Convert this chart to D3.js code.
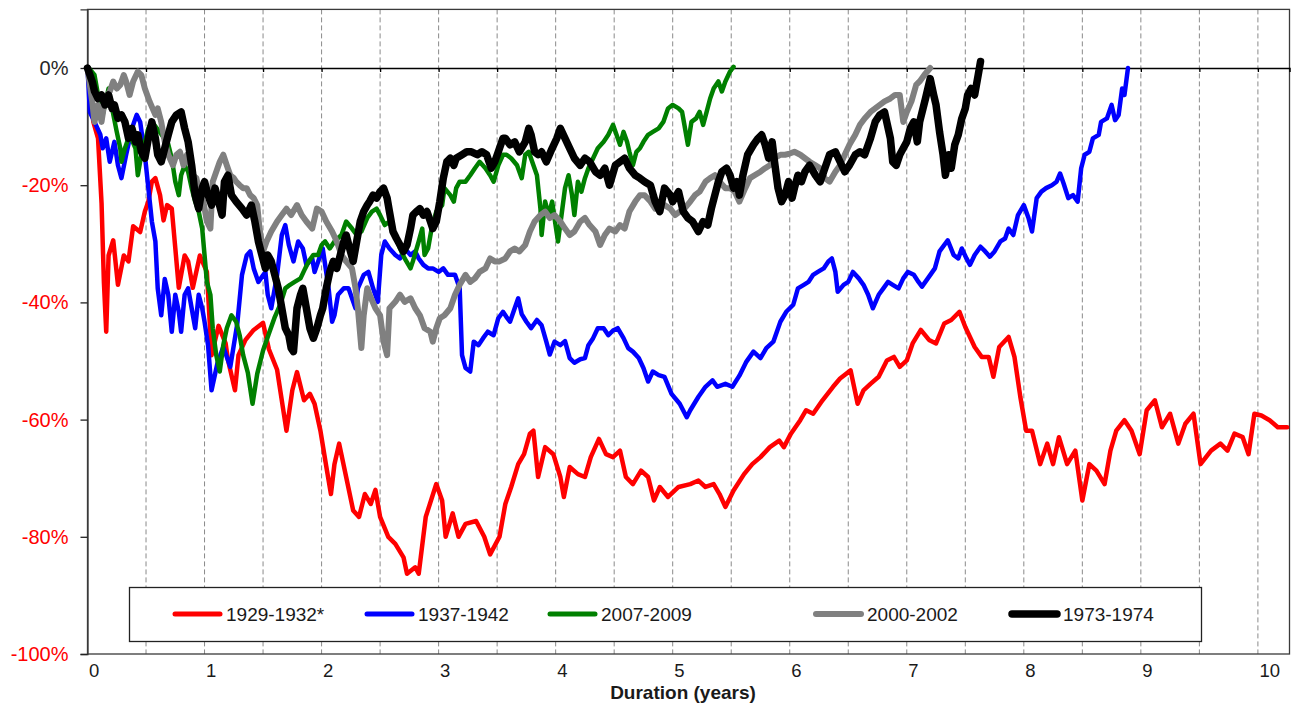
<!DOCTYPE html>
<html>
<head>
<meta charset="utf-8">
<title>Bear market durations</title>
<script src="https://d3js.org/d3.v7.min.js"></script>
<style>
body { margin: 0; background: #fff; }
text { font-family: "Liberation Sans", Arial, sans-serif; }
.series { fill: none; stroke-linejoin: round; stroke-linecap: round; }
</style>
</head>
<body>
<script>
// [years since start, % from previous peak]
var red1929 = [[0,0],[0.05,-9.2],[0.09,-12],[0.12,-23],[0.14,-36.5],[0.16,-45],[0.18,-32],[0.22,-29.4],[0.26,-37],[0.31,-32],[0.35,-33],[0.39,-27],[0.45,-28],[0.49,-24.5],[0.52,-22.8],[0.55,-19.4],[0.58,-18.8],[0.62,-21.7],[0.65,-26],[0.68,-23.4],[0.72,-24],[0.75,-30.7],[0.78,-37.5],[0.83,-32],[0.86,-33],[0.90,-37.5],[0.96,-32],[1.02,-34.8],[1.06,-49],[1.12,-44],[1.18,-47],[1.20,-49.8],[1.26,-55],[1.29,-49],[1.35,-46.4],[1.42,-44.7],[1.50,-43.5],[1.55,-48],[1.62,-51.5],[1.70,-61.9],[1.75,-55],[1.79,-51.9],[1.85,-56.7],[1.90,-55.6],[1.94,-57.3],[1.99,-61.9],[2.04,-68],[2.08,-72.7],[2.11,-67.6],[2.15,-64.1],[2.21,-69.8],[2.27,-75.5],[2.32,-76.6],[2.37,-72.7],[2.42,-74.4],[2.46,-72],[2.50,-76.6],[2.57,-80],[2.63,-81.2],[2.70,-83.5],[2.73,-86.3],[2.80,-85.2],[2.83,-86.3],[2.89,-76.6],[2.98,-71],[3.03,-73.8],[3.06,-80],[3.12,-76],[3.17,-80],[3.23,-77.8],[3.32,-77.3],[3.39,-80],[3.44,-83],[3.52,-80],[3.57,-74.4],[3.62,-71.5],[3.68,-67.6],[3.73,-65.9],[3.78,-62.4],[3.81,-61.9],[3.85,-69.8],[3.91,-64.7],[3.98,-65.9],[4.04,-69.8],[4.07,-73.2],[4.12,-68.1],[4.19,-69.3],[4.25,-69.8],[4.30,-66.4],[4.37,-63.3],[4.43,-65.9],[4.49,-66.4],[4.55,-65.3],[4.60,-69.8],[4.66,-71],[4.73,-68.7],[4.79,-69.8],[4.84,-73.8],[4.89,-71.5],[4.96,-73.2],[5.05,-71.5],[5.15,-71],[5.22,-70.4],[5.28,-71.5],[5.35,-71],[5.40,-72.7],[5.45,-74.9],[5.52,-72.1],[5.61,-69.3],[5.68,-67.6],[5.75,-66.4],[5.83,-64.7],[5.91,-63.6],[5.95,-64.7],[6.01,-62.4],[6.09,-60.1],[6.14,-58.4],[6.20,-59],[6.28,-56.7],[6.37,-54.4],[6.43,-53],[6.52,-51.6],[6.58,-57.3],[6.63,-55],[6.69,-53.9],[6.76,-52.7],[6.83,-49.9],[6.89,-49.3],[6.94,-51],[7.00,-49.9],[7.05,-47],[7.12,-44.7],[7.19,-46.4],[7.25,-47],[7.32,-43.6],[7.38,-43],[7.45,-41.6],[7.50,-44.2],[7.58,-47.6],[7.64,-49.3],[7.70,-49.3],[7.74,-52.7],[7.79,-47.6],[7.87,-45.9],[7.92,-49.3],[7.97,-56.1],[8.02,-61.9],[8.07,-61.9],[8.14,-67.6],[8.20,-64.1],[8.25,-67.6],[8.30,-63],[8.37,-67.6],[8.44,-65.3],[8.50,-73.8],[8.56,-67.6],[8.62,-68.7],[8.69,-71],[8.74,-65.3],[8.79,-61.9],[8.86,-60.1],[8.92,-61.9],[8.99,-65.9],[9.05,-58.4],[9.12,-56.7],[9.18,-61.3],[9.25,-59],[9.32,-64.1],[9.38,-60.7],[9.45,-59],[9.51,-67.6],[9.60,-65.3],[9.68,-64.1],[9.74,-65.3],[9.80,-62.4],[9.87,-63],[9.92,-65.9],[9.97,-59],[10.03,-59.3],[10.10,-60.1],[10.17,-61.3],[10.25,-61.3]];

var blue1937 = [[0,0],[0.01,-3.5],[0.02,-7.5],[0.06,-9.2],[0.11,-11.4],[0.13,-13.7],[0.16,-12],[0.19,-16],[0.23,-12.6],[0.26,-16.6],[0.29,-18.8],[0.33,-14.8],[0.38,-10.3],[0.42,-8],[0.45,-9.2],[0.49,-14.8],[0.52,-20.5],[0.55,-26.2],[0.58,-29.6],[0.60,-37.6],[0.63,-42.2],[0.66,-36],[0.69,-38.7],[0.72,-45],[0.75,-38.7],[0.78,-41.6],[0.80,-45],[0.83,-38.7],[0.86,-37.6],[0.89,-41],[0.92,-44.4],[0.95,-38.7],[0.98,-41],[1.00,-43.3],[1.03,-47.3],[1.06,-55],[1.11,-50.4],[1.16,-47.6],[1.22,-51],[1.28,-43.6],[1.32,-35.3],[1.36,-32],[1.39,-31.3],[1.42,-34.2],[1.46,-36.5],[1.52,-34.8],[1.54,-38.7],[1.57,-41],[1.62,-35.3],[1.66,-28.5],[1.69,-26.8],[1.72,-30.2],[1.76,-33],[1.80,-29.6],[1.84,-30.8],[1.87,-33.6],[1.92,-32.5],[1.94,-34.8],[1.99,-31.9],[2.01,-30.8],[2.06,-37.6],[2.09,-43.3],[2.11,-42.2],[2.14,-38.7],[2.19,-37.6],[2.23,-37.6],[2.26,-39.3],[2.29,-41],[2.31,-37.6],[2.36,-35.3],[2.40,-34.8],[2.44,-37.6],[2.48,-39.9],[2.51,-31.9],[2.54,-29.6],[2.58,-30.8],[2.63,-31.9],[2.67,-32.5],[2.71,-30.8],[2.76,-31.9],[2.80,-31.3],[2.83,-32.5],[2.87,-33.6],[2.91,-34.2],[2.95,-34.2],[3.00,-34.8],[3.04,-34.2],[3.08,-35.3],[3.14,-35.3],[3.18,-37.6],[3.20,-49],[3.23,-51.2],[3.27,-51.8],[3.30,-46.7],[3.34,-47.3],[3.38,-46.1],[3.42,-45],[3.47,-45.6],[3.51,-42.7],[3.55,-41.6],[3.58,-42.5],[3.61,-43.3],[3.65,-41],[3.68,-39.3],[3.71,-42],[3.75,-43.3],[3.79,-44.4],[3.84,-43],[3.88,-43.9],[3.92,-46.7],[3.95,-48.9],[3.99,-46.7],[4.04,-47.3],[4.08,-46.6],[4.12,-49.5],[4.16,-50.3],[4.21,-49.7],[4.25,-49.5],[4.28,-47.3],[4.32,-46.1],[4.36,-44.4],[4.41,-44.4],[4.45,-45.6],[4.49,-44.8],[4.53,-44.4],[4.58,-46.1],[4.62,-47.8],[4.66,-48.4],[4.71,-49.5],[4.75,-51.2],[4.79,-53.5],[4.83,-51.8],[4.88,-52.4],[4.93,-52.7],[4.99,-55.6],[5.06,-57.3],[5.12,-59.6],[5.15,-58.4],[5.22,-56.1],[5.28,-54.4],[5.34,-53.3],[5.38,-54.4],[5.45,-53.9],[5.51,-54.4],[5.57,-52.5],[5.63,-50.1],[5.69,-48.4],[5.75,-49.5],[5.80,-47.8],[5.86,-46.7],[5.92,-43.3],[5.97,-41.6],[6.03,-40.4],[6.07,-37.6],[6.12,-37],[6.16,-36.5],[6.20,-35.3],[6.24,-34.8],[6.29,-34.2],[6.33,-33],[6.36,-32.5],[6.39,-34.8],[6.41,-38.2],[6.46,-37],[6.50,-36.5],[6.54,-34.8],[6.59,-35.9],[6.63,-37],[6.67,-38.7],[6.71,-41],[6.76,-38.7],[6.80,-37.6],[6.84,-36.5],[6.88,-37],[6.93,-37.6],[6.97,-35.9],[7.01,-34.8],[7.06,-35.3],[7.10,-36.5],[7.13,-37.3],[7.18,-35.9],[7.24,-34.2],[7.28,-31.3],[7.35,-29.4],[7.40,-31.9],[7.44,-32.5],[7.47,-30.8],[7.51,-32.5],[7.54,-33.6],[7.58,-31.9],[7.63,-30.5],[7.67,-31.3],[7.71,-32.2],[7.75,-31.3],[7.80,-29.6],[7.84,-29.1],[7.87,-27.4],[7.91,-28.5],[7.95,-25.1],[8.00,-23.4],[8.04,-25.6],[8.07,-27.9],[8.11,-22.2],[8.15,-21.1],[8.19,-20.5],[8.24,-20],[8.28,-19.4],[8.31,-18],[8.34,-19.7],[8.38,-22.2],[8.42,-21.7],[8.46,-22.8],[8.49,-17.1],[8.52,-14.8],[8.56,-14.3],[8.59,-12],[8.64,-11.4],[8.66,-9.2],[8.71,-8.6],[8.75,-6.3],[8.78,-8.9],[8.81,-8],[8.84,-3.5],[8.86,-4.6],[8.89,0]];

var green2007 = [[0,0],[0.01,0],[0.06,-1.2],[0.09,-4.6],[0.13,-8],[0.18,-3.5],[0.21,-6.9],[0.25,-10.9],[0.28,-13.7],[0.29,-16],[0.32,-13.7],[0.36,-11.4],[0.41,-13.7],[0.43,-18.3],[0.46,-14.8],[0.49,-12.6],[0.52,-10.3],[0.55,-9.2],[0.62,-11],[0.69,-13],[0.72,-15.4],[0.75,-19.4],[0.78,-21.7],[0.80,-18.3],[0.83,-16.6],[0.86,-17.7],[0.89,-20.5],[0.92,-22.8],[0.95,-24.5],[0.98,-27.4],[1.00,-31.9],[1.02,-36.5],[1.05,-38.7],[1.07,-44.4],[1.10,-49],[1.13,-51.8],[1.16,-47.3],[1.19,-44.4],[1.23,-42.2],[1.27,-43.3],[1.30,-45.6],[1.33,-49],[1.37,-52],[1.41,-57.3],[1.45,-52.2],[1.50,-48.2],[1.55,-45.3],[1.60,-42.5],[1.65,-40.2],[1.69,-37.6],[1.73,-37],[1.77,-36.5],[1.82,-35.9],[1.86,-34.2],[1.89,-33],[1.93,-31.9],[1.97,-31.9],[2.00,-30.2],[2.03,-29.6],[2.07,-30.8],[2.11,-29.6],[2.17,-28.5],[2.21,-26.2],[2.26,-27.4],[2.30,-28.5],[2.34,-27.9],[2.39,-25.6],[2.43,-24.5],[2.47,-24],[2.50,-25.1],[2.54,-26.8],[2.58,-26.2],[2.63,-28.5],[2.67,-30.8],[2.71,-32.5],[2.76,-34.2],[2.78,-33],[2.83,-29.6],[2.86,-27.4],[2.88,-31.9],[2.91,-30.8],[2.94,-27.4],[2.98,-24.5],[3.03,-23.4],[3.05,-20.5],[3.10,-21.7],[3.13,-22.8],[3.15,-20.5],[3.18,-19.4],[3.23,-19.4],[3.27,-18.3],[3.31,-17.1],[3.35,-16],[3.40,-17.1],[3.44,-18.3],[3.47,-19.4],[3.51,-16.6],[3.55,-14.8],[3.58,-14.8],[3.62,-15.4],[3.67,-16.6],[3.71,-18.8],[3.74,-14.8],[3.77,-14.3],[3.81,-16.6],[3.84,-18.3],[3.87,-24],[3.88,-28.5],[3.91,-22.8],[3.94,-25.1],[3.97,-22.8],[3.99,-25.6],[4.02,-29.6],[4.05,-25.1],[4.08,-20.5],[4.11,-18.3],[4.14,-21.7],[4.16,-25.1],[4.19,-19.4],[4.22,-21.1],[4.25,-18.8],[4.28,-17.1],[4.32,-15.4],[4.36,-13.7],[4.41,-12.6],[4.45,-11.4],[4.49,-9.7],[4.52,-11.4],[4.55,-13.1],[4.58,-10.9],[4.61,-12.6],[4.63,-14.3],[4.66,-16.6],[4.69,-14.3],[4.72,-13.7],[4.75,-12.6],[4.79,-11.4],[4.83,-10.9],[4.88,-10.3],[4.92,-9.2],[4.96,-6.9],[5.00,-6.3],[5.05,-6.9],[5.08,-7.5],[5.10,-9.7],[5.13,-13.1],[5.16,-9.2],[5.20,-8.6],[5.23,-7.5],[5.26,-9.7],[5.29,-7.5],[5.32,-5.2],[5.35,-3.5],[5.39,-2.3],[5.42,-4],[5.45,-2.3],[5.49,-0.6],[5.52,0.2]];

var gray2000 = [[0,0],[0.04,-5.7],[0.06,-9.2],[0.09,-6.3],[0.12,-9.2],[0.15,-5.2],[0.19,-4],[0.22,-2.3],[0.25,-3.5],[0.28,-2.9],[0.31,-1.2],[0.33,-2.3],[0.36,-4.6],[0.39,-2.3],[0.43,-0.6],[0.46,-1.2],[0.49,-3.5],[0.53,-5.7],[0.58,-8],[0.60,-6.9],[0.63,-9.2],[0.66,-12.6],[0.69,-14.8],[0.73,-16.6],[0.76,-14.8],[0.79,-14.3],[0.82,-16.6],[0.85,-14.8],[0.88,-16.6],[0.90,-18.3],[0.93,-18.8],[0.96,-21.7],[0.99,-22.8],[1.02,-26.2],[1.05,-27.4],[1.07,-19.4],[1.10,-17.7],[1.13,-16],[1.16,-14.8],[1.19,-16.6],[1.22,-18.3],[1.25,-18.8],[1.27,-19.4],[1.30,-20],[1.33,-20.5],[1.36,-20.5],[1.39,-21.7],[1.42,-22.2],[1.45,-23.4],[1.47,-27.4],[1.50,-31.3],[1.53,-29.6],[1.57,-27.9],[1.62,-26.2],[1.66,-25.1],[1.70,-24],[1.74,-25.1],[1.79,-23.4],[1.83,-25.1],[1.87,-26.2],[1.92,-27.4],[1.96,-24],[2.00,-24.5],[2.04,-26.2],[2.09,-27.9],[2.13,-29.6],[2.17,-31.9],[2.21,-33],[2.26,-34.2],[2.29,-37.6],[2.31,-41],[2.34,-47.8],[2.36,-42.2],[2.39,-37.6],[2.41,-38.7],[2.46,-41],[2.50,-42.2],[2.53,-46.7],[2.56,-49],[2.58,-41],[2.63,-39.9],[2.67,-38.7],[2.71,-39.9],[2.76,-39.3],[2.80,-41],[2.84,-42.2],[2.88,-44.4],[2.93,-45],[2.95,-46.7],[2.98,-44.4],[3.01,-42.7],[3.05,-42.2],[3.10,-41],[3.14,-38.7],[3.18,-37],[3.23,-35.3],[3.27,-36.5],[3.31,-35.9],[3.35,-34.8],[3.40,-34.2],[3.44,-32.5],[3.48,-33],[3.52,-33],[3.57,-32.5],[3.61,-31.3],[3.65,-30.8],[3.69,-31.3],[3.74,-30.2],[3.78,-27.9],[3.82,-26.2],[3.87,-25.1],[3.91,-24.5],[3.95,-25.6],[3.99,-25.1],[4.04,-26.2],[4.08,-27.4],[4.12,-28.5],[4.16,-27.9],[4.21,-26.2],[4.25,-25.6],[4.29,-26.8],[4.34,-27.9],[4.38,-30.2],[4.42,-28.5],[4.46,-27.4],[4.51,-27.9],[4.55,-26.8],[4.59,-27.4],[4.63,-24.5],[4.68,-22.8],[4.72,-21.7],[4.76,-21.7],[4.81,-22.8],[4.85,-24],[4.89,-23.4],[4.93,-23.4],[4.98,-24],[5.02,-25.1],[5.06,-24.5],[5.10,-24],[5.15,-22.8],[5.19,-21.7],[5.23,-21.1],[5.28,-19.4],[5.32,-18.8],[5.36,-18.3],[5.40,-19.4],[5.45,-20.5],[5.49,-20.5],[5.53,-21.1],[5.57,-22.8],[5.62,-20.5],[5.66,-18.8],[5.70,-18.3],[5.75,-17.7],[5.79,-17.1],[5.83,-16.6],[5.87,-15.4],[5.92,-14.8],[5.96,-14.8],[6.00,-14.6],[6.04,-14.3],[6.09,-14.8],[6.13,-15.4],[6.17,-16],[6.22,-16.6],[6.26,-17.1],[6.30,-18.8],[6.34,-19.4],[6.39,-17.7],[6.43,-16.6],[6.47,-14.8],[6.51,-13.1],[6.56,-11.4],[6.60,-9.7],[6.64,-8.6],[6.69,-7.5],[6.73,-6.9],[6.77,-6.3],[6.81,-5.7],[6.86,-5.2],[6.90,-4.6],[6.94,-4.6],[6.97,-9.2],[7.00,-7.5],[7.04,-5.7],[7.08,-2.9],[7.11,-2.3],[7.15,-1.2],[7.20,0]];

var black1973 = [[0,0],[0.04,-2.3],[0.06,-4],[0.09,-5.2],[0.12,-4.6],[0.15,-6.3],[0.18,-4.6],[0.21,-6.9],[0.23,-6.3],[0.26,-8.6],[0.29,-8],[0.32,-9.2],[0.35,-12],[0.38,-10.3],[0.41,-12.6],[0.43,-11.4],[0.46,-14.3],[0.49,-15.4],[0.52,-12],[0.55,-9.2],[0.58,-12],[0.60,-14.8],[0.63,-16],[0.66,-13.7],[0.69,-11.4],[0.72,-9.2],[0.76,-8],[0.80,-7.5],[0.83,-10.3],[0.86,-12.6],[0.89,-16.6],[0.92,-21.7],[0.95,-24],[0.98,-20.5],[1.00,-19.4],[1.03,-21.7],[1.06,-23.4],[1.09,-20.5],[1.12,-22.8],[1.15,-25.1],[1.17,-19.4],[1.20,-18.3],[1.23,-21.7],[1.27,-22.8],[1.32,-24],[1.36,-25.1],[1.40,-23.4],[1.43,-26.2],[1.46,-29.6],[1.49,-31.9],[1.52,-34.2],[1.54,-31.9],[1.57,-33],[1.60,-35.3],[1.63,-37.6],[1.66,-41],[1.69,-44.4],[1.72,-45.6],[1.74,-47.8],[1.76,-48.4],[1.79,-41],[1.82,-38.7],[1.84,-37.6],[1.87,-41],[1.90,-44.4],[1.93,-46.1],[1.96,-44.4],[1.99,-42.2],[2.01,-41],[2.04,-37.6],[2.07,-34.8],[2.10,-33],[2.13,-34.2],[2.16,-31.9],[2.19,-29.6],[2.21,-28.5],[2.24,-30.8],[2.27,-33],[2.30,-29.6],[2.33,-26.2],[2.36,-24.5],[2.39,-23.4],[2.41,-22.8],[2.44,-21.7],[2.47,-22.2],[2.50,-21.1],[2.53,-20.5],[2.56,-22.2],[2.58,-24.5],[2.61,-27.9],[2.64,-29.1],[2.67,-30.2],[2.70,-31.3],[2.73,-30.2],[2.76,-27.4],[2.78,-25.1],[2.81,-24.5],[2.84,-24],[2.87,-25.1],[2.90,-24.5],[2.93,-26.2],[2.95,-27.4],[2.98,-26.2],[3.01,-22.8],[3.04,-18.8],[3.07,-16],[3.10,-15.4],[3.13,-16.6],[3.15,-15.4],[3.20,-14.8],[3.24,-14.3],[3.28,-14.3],[3.33,-14.8],[3.37,-14.3],[3.41,-14.8],[3.45,-17.1],[3.48,-16],[3.51,-14.3],[3.55,-12],[3.57,-12],[3.61,-13.1],[3.65,-12.6],[3.69,-14.3],[3.74,-12.6],[3.77,-10.3],[3.79,-11.4],[3.82,-14.3],[3.85,-14.8],[3.88,-14.3],[3.92,-16],[3.97,-13.7],[4.01,-12],[4.04,-10.3],[4.08,-12],[4.12,-13.7],[4.16,-15.4],[4.21,-16.6],[4.25,-15.4],[4.29,-16],[4.34,-17.7],[4.38,-18.3],[4.42,-17.1],[4.46,-20],[4.51,-16.6],[4.55,-16],[4.59,-15.4],[4.63,-17.1],[4.68,-18.3],[4.72,-18.8],[4.76,-19.4],[4.81,-20],[4.85,-22.8],[4.89,-24.5],[4.93,-20.5],[4.98,-21.7],[5.00,-22.8],[5.05,-21.1],[5.09,-24.5],[5.13,-25.6],[5.17,-26.2],[5.22,-27.9],[5.26,-26.2],[5.30,-26.8],[5.33,-24],[5.36,-21.7],[5.39,-19.4],[5.42,-17.7],[5.46,-17.1],[5.49,-18.3],[5.52,-20.5],[5.55,-19.4],[5.57,-21.7],[5.60,-18.3],[5.64,-14.8],[5.69,-13.1],[5.73,-12],[5.76,-11.4],[5.79,-13.1],[5.82,-15.4],[5.85,-12.6],[5.87,-16],[5.90,-20.5],[5.93,-22.8],[5.96,-21.7],[5.99,-19.4],[6.02,-22.2],[6.04,-20.5],[6.07,-18.3],[6.10,-19.4],[6.13,-17.7],[6.17,-16.6],[6.22,-18.3],[6.26,-19.4],[6.30,-17.1],[6.34,-14.8],[6.39,-14.3],[6.43,-16],[6.47,-17.7],[6.51,-16.6],[6.56,-14.8],[6.60,-14.3],[6.64,-14.8],[6.69,-12],[6.73,-9.2],[6.77,-8],[6.81,-7.5],[6.86,-12],[6.88,-16],[6.91,-16.6],[6.94,-14.8],[6.97,-13.7],[7.00,-12.6],[7.03,-10.3],[7.06,-9.2],[7.09,-12.6],[7.11,-9.2],[7.16,-5.2],[7.20,-1.8],[7.23,-4.6],[7.25,-6.3],[7.28,-10.9],[7.31,-14.8],[7.33,-18.3],[7.36,-14.8],[7.38,-17.1],[7.41,-13.1],[7.44,-11.4],[7.47,-8.6],[7.50,-6.9],[7.52,-4.6],[7.55,-3.5],[7.58,-4.6],[7.61,-1.2],[7.63,1.1]];

var seriesNames = ["1929-1932*", "1937-1942", "2007-2009", "2000-2002", "1973-1974"];
var seriesColors = ["#ff0000", "#0000ff", "#008000", "#808080", "#000000"];
var seriesWidths = [4.5, 4.5, 4.5, 6, 7.5];
var seriesData = [red1929, blue1937, green2007, gray2000, black1973];

var yTicks = [0, -20, -40, -60, -80, -100];
var xTicks = [0, 1, 2, 3, 4, 5, 6, 7, 8, 9, 10];
var gridYears = d3.range(1, 21).map(function(i) { return i * 0.5; });

// set the dimensions and margins of the graph
var margin = {top: 9.4, right: 4.5, bottom: 51, left: 87.5},
    width = 1294 - margin.left - margin.right,
    height = 705 - margin.top - margin.bottom;

var x = d3.scaleLinear().domain([0, 10.27]).range([0, width]);
var y = d3.scaleLinear().domain([-100, 10]).range([height, 0]);

var svg = d3.select("body").append("svg")
    .attr("width", 1294)
    .attr("height", 705)
  .append("g")
    .attr("transform", "translate(" + margin.left + "," + margin.top + ")");

// dashed half-year grid lines
svg.selectAll(".grid")
    .data(gridYears)
  .enter().append("line")
    .attr("x1", function(d) { return x(d); })
    .attr("x2", function(d) { return x(d); })
    .attr("y1", 0)
    .attr("y2", height)
    .attr("stroke", "#8a8a8a")
    .attr("stroke-width", 1)
    .attr("stroke-dasharray", "5,3");

// plot frame
svg.append("rect")
    .attr("width", width)
    .attr("height", height)
    .attr("fill", "none")
    .attr("stroke", "#3a3a3a")
    .attr("stroke-width", 1.3);

// y axis
var yAxis = svg.append("g")
    .call(d3.axisLeft(y).tickValues(yTicks).tickSize(7).tickPadding(12)
      .tickFormat(function(d) { return d + "%"; }));
yAxis.select(".domain").attr("stroke", "#3a3a3a").attr("stroke-width", 1.3);
yAxis.selectAll(".tick line").attr("stroke", "#222").attr("stroke-width", 1.3);
yAxis.selectAll(".tick text")
    .attr("font-size", 20)
    .attr("font-family", "Liberation Sans, Arial, sans-serif")
    .attr("fill", function(d) { return d < 0 ? "#ff0000" : "#262626"; });

// 0% line with half-year ticks
var zeroAxis = svg.append("g")
    .attr("transform", "translate(0," + y(0) + ")")
    .call(d3.axisBottom(x).tickValues(gridYears).tickSize(4).tickFormat(""));
zeroAxis.select(".domain").attr("stroke", "#000").attr("stroke-width", 1.5);
zeroAxis.selectAll(".tick line").attr("stroke", "#000").attr("stroke-width", 1.3);

// bottom labels
var xAxis = svg.append("g")
    .attr("transform", "translate(0," + height + ")")
    .call(d3.axisBottom(x).tickValues(xTicks).tickSize(0).tickFormat(d3.format("d")));
xAxis.select(".domain").remove();
xAxis.selectAll(".tick text")
    .attr("x", 1)
    .attr("y", 23)
    .attr("dy", 0)
    .attr("text-anchor", "start")
    .attr("font-size", 18.5)
    .attr("font-family", "Liberation Sans, Arial, sans-serif")
    .attr("fill", "#1a1a1a");

// x axis title
svg.append("text")
    .attr("x", 683 - margin.left)
    .attr("y", 699 - margin.top)
    .attr("text-anchor", "middle")
    .attr("font-size", 19)
    .attr("font-weight", "bold")
    .attr("fill", "#1a1a1a")
    .text("Duration (years)");

// the lines
var line = d3.line()
    .x(function(d) { return x(d[0]); })
    .y(function(d) { return y(d[1]); });

svg.selectAll(".series")
    .data(seriesData)
  .enter().append("path")
    .attr("class", "series")
    .attr("d", line)
    .attr("stroke", function(d, i) { return seriesColors[i]; })
    .attr("stroke-width", function(d, i) { return seriesWidths[i]; });

// legend
var legend = d3.select("svg").append("g");
legend.append("rect")
    .attr("x", 129.5).attr("y", 587.5)
    .attr("width", 1072).attr("height", 54)
    .attr("fill", "#fff")
    .attr("stroke", "#222")
    .attr("stroke-width", 1.3);

var legendX = [173, 365, 548, 814, 1010];
var item = legend.selectAll(".item")
    .data(seriesNames)
  .enter().append("g")
    .attr("transform", function(d, i) { return "translate(" + legendX[i] + ",614)"; });
item.append("line")
    .attr("x1", 2).attr("x2", 47)
    .attr("stroke", function(d, i) { return seriesColors[i]; })
    .attr("stroke-width", function(d, i) { return Math.max(5, seriesWidths[i]); })
    .attr("stroke-linecap", "round");
item.append("text")
    .attr("x", 53)
    .attr("y", 7)
    .attr("font-size", 19)
    .attr("fill", "#1a1a1a")
    .text(function(d) { return d; });
</script>
</body>
</html>
